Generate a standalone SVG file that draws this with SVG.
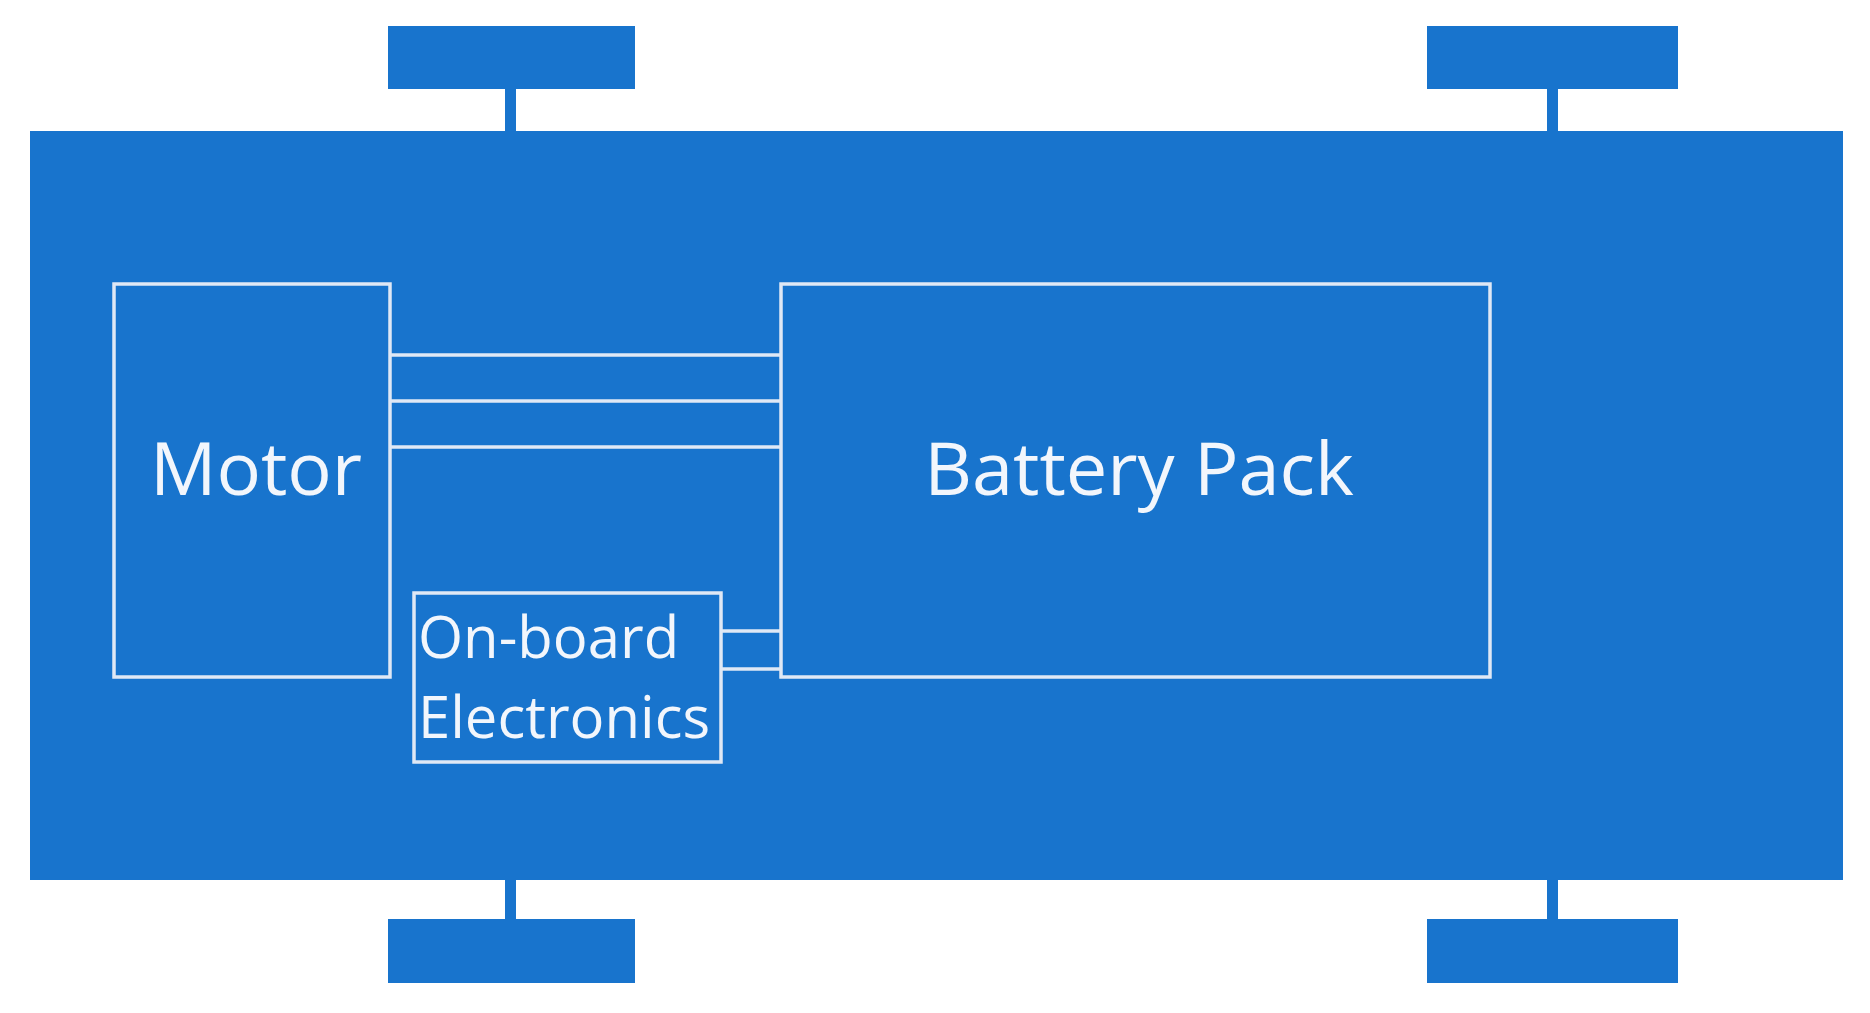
<svg xmlns="http://www.w3.org/2000/svg" width="1870" height="1013" viewBox="0 0 1870 1013">
<style>
.b{fill:#1874cd}
.box{fill:none;stroke:#dfe8f5;stroke-width:3.5}
.ln{stroke:#dfe8f5;stroke-width:3.5}
.t{fill:#f2f6fc;font-family:"Open Sans","Noto Sans",sans-serif}
</style>
<rect width="1870" height="1013" fill="#fff"/>
<g id="wheels">
<rect class="b" x="388" y="26" width="247" height="63"/>
<rect class="b" x="1427" y="26" width="251" height="63"/>
<rect class="b" x="388" y="919" width="247" height="64"/>
<rect class="b" x="1427" y="919" width="251" height="64"/>
<rect class="b" x="505" y="85" width="11" height="50"/>
<rect class="b" x="1547" y="85" width="11" height="50"/>
<rect class="b" x="505" y="876" width="11" height="47"/>
<rect class="b" x="1547" y="876" width="11" height="47"/>
</g>
<g id="body"><rect class="b" x="30" y="131" width="1813" height="749"/></g>
<g id="connectors">
<line class="ln" x1="390" y1="355" x2="781" y2="355"/>
<line class="ln" x1="390" y1="401" x2="781" y2="401"/>
<line class="ln" x1="390" y1="447" x2="781" y2="447"/>
<line class="ln" x1="721" y1="631" x2="781" y2="631"/>
<line class="ln" x1="721" y1="669" x2="781" y2="669"/>
</g>
<g id="motor"><rect class="box" x="114" y="284" width="276" height="393"/>
<text class="t" x="256" y="495" font-size="74" text-anchor="middle">Motor</text></g>
<g id="battery"><rect class="box" x="781" y="284" width="709" height="393"/>
<text class="t" x="1139" y="495" font-size="74" text-anchor="middle">Battery Pack</text></g>
<g id="electronics"><rect class="box" x="414" y="593" width="307" height="169"/>
<text class="t" x="418" y="658" font-size="58">On-board</text>
<text class="t" x="418" y="738" font-size="58">Electronics</text></g>
</svg>
